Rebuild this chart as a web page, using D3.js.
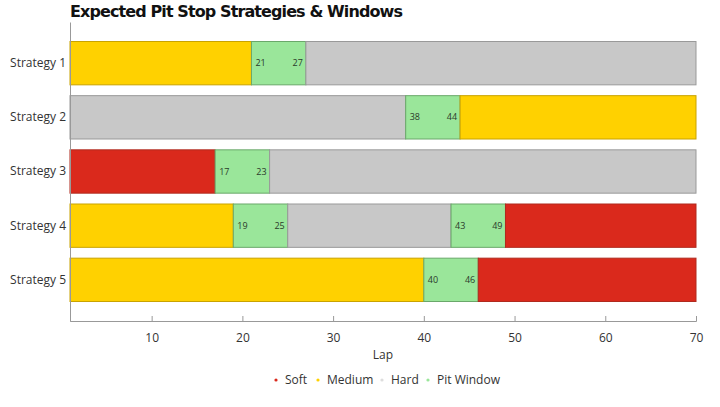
<!DOCTYPE html>
<html>
<head>
<meta charset="utf-8">
<script src="https://cdn.jsdelivr.net/npm/d3@7"></script>
<style>
  body { margin: 0; background: #fff; }
  text { font-family: "Open Sans", sans-serif; }
</style>
</head>
<body>
<div id="chart"></div>
<script>
// data
var strategies = ["Strategy 1", "Strategy 2", "Strategy 3", "Strategy 4", "Strategy 5"];
var compounds = ["Soft", "Medium", "Hard", "Pit Window"];
var compoundColors = ["#da291c", "#ffd100", "#c8c8c8", "#9ae69a"];
var compoundStrokes = ["#b02a1e", "#c9a300", "#999999", "#6aa86a"];

// [compound, from lap, to lap]
var strategy1 = [["Medium", 1, 21], ["Pit Window", 21, 27], ["Hard", 27, 70]];
var strategy2 = [["Hard", 1, 38], ["Pit Window", 38, 44], ["Medium", 44, 70]];
var strategy3 = [["Soft", 1, 17], ["Pit Window", 17, 23], ["Hard", 23, 70]];
var strategy4 = [["Medium", 1, 19], ["Pit Window", 19, 25], ["Hard", 25, 43], ["Pit Window", 43, 49], ["Soft", 49, 70]];
var strategy5 = [["Medium", 1, 40], ["Pit Window", 40, 46], ["Soft", 46, 70]];
var stints = [strategy1, strategy2, strategy3, strategy4, strategy5];

var lapTicks = [10, 20, 30, 40, 50, 60, 70];

var width = 720, height = 407;
var margin = {left: 70, right: 24, top: 22, bottom: 86};

var svg = d3.select("#chart").append("svg")
    .attr("width", width)
    .attr("height", height);

var x = d3.scaleLinear().domain([1, 70]).range([margin.left, width - margin.right]);
var y = d3.scaleBand().domain(strategies)
    .range([margin.top, height - margin.bottom])
    .paddingInner(0.2)
    .paddingOuter(0.36);
var fill = d3.scaleOrdinal().domain(compounds).range(compoundColors);
var stroke = d3.scaleOrdinal().domain(compounds).range(compoundStrokes);

svg.append("text")
    .attr("x", margin.left)
    .attr("y", 17)
    .style("font-family", "'DejaVu Sans', sans-serif")
    .style("font-weight", "bold")
    .style("font-size", "16px")
    .attr("textLength", 333)
    .attr("fill", "#111")
    .text("Expected Pit Stop Strategies & Windows");

// flatten the stints into one list of segments
var segments = [];
stints.forEach(function(list, i) {
    list.forEach(function(s) {
        segments.push({strategy: strategies[i], compound: s[0], start: s[1], end: s[2]});
    });
});

svg.append("g").selectAll("rect")
    .data(segments)
    .enter()
    .append("rect")
    .attr("x", d => x(d.start))
    .attr("y", d => y(d.strategy))
    .attr("width", d => x(d.end) - x(d.start))
    .attr("height", y.bandwidth())
    .attr("fill", d => fill(d.compound))
    .attr("stroke", d => stroke(d.compound))
    .attr("stroke-width", 1);

// lap labels inside pit windows
var windows = segments.filter(d => d.compound == "Pit Window");
var labels = svg.append("g")
    .style("font-size", "9px")
    .attr("fill", "#2b3a2b");

labels.selectAll(".win-start")
    .data(windows)
    .enter()
    .append("text")
    .attr("x", d => x(d.start) + 4)
    .attr("y", d => y(d.strategy) + y.bandwidth() / 2)
    .attr("dy", "0.35em")
    .text(d => d.start);

labels.selectAll(".win-end")
    .data(windows)
    .enter()
    .append("text")
    .attr("x", d => x(d.end) - 3)
    .attr("y", d => y(d.strategy) + y.bandwidth() / 2)
    .attr("dy", "0.35em")
    .attr("text-anchor", "end")
    .text(d => d.end);

// axes
var xAxis = svg.append("g")
    .attr("transform", "translate(0," + (height - margin.bottom) + ")")
    .call(d3.axisBottom(x).tickValues(lapTicks).tickSize(-5).tickPadding(12));
xAxis.select(".domain").attr("stroke", "#999");
xAxis.selectAll(".tick line").attr("stroke", "#999");
xAxis.selectAll(".tick text")
    .style("font-family", "'Open Sans', sans-serif")
    .style("font-size", "12px")
    .attr("fill", "#333");

var yAxis = svg.append("g")
    .attr("transform", "translate(" + margin.left + ",0)")
    .call(d3.axisLeft(y).tickSize(0).tickPadding(4));
yAxis.select(".domain").attr("stroke", "#999");
yAxis.selectAll(".tick text")
    .style("font-family", "'Open Sans', sans-serif")
    .style("font-size", "12px")
    .attr("fill", "#333");

svg.append("text")
    .attr("x", (x.range()[0] + x.range()[1]) / 2)
    .attr("y", 359)
    .attr("text-anchor", "middle")
    .style("font-size", "12px")
    .attr("fill", "#333")
    .text("Lap");

// legend
var legendX = [276, 318, 382, 428];
var legend = svg.append("g").selectAll("g")
    .data(compounds)
    .enter()
    .append("g")
    .attr("transform", (d, i) => "translate(" + legendX[i] + ",380)");
legend.append("circle")
    .attr("r", 1.6)
    .attr("fill", d => fill(d) == "#c8c8c8" ? "#ddd" : fill(d));
legend.append("text")
    .attr("x", 9)
    .attr("dy", "0.35em")
    .style("font-size", "12px")
    .attr("fill", "#333")
    .text(d => d);
</script>
</body>
</html>
